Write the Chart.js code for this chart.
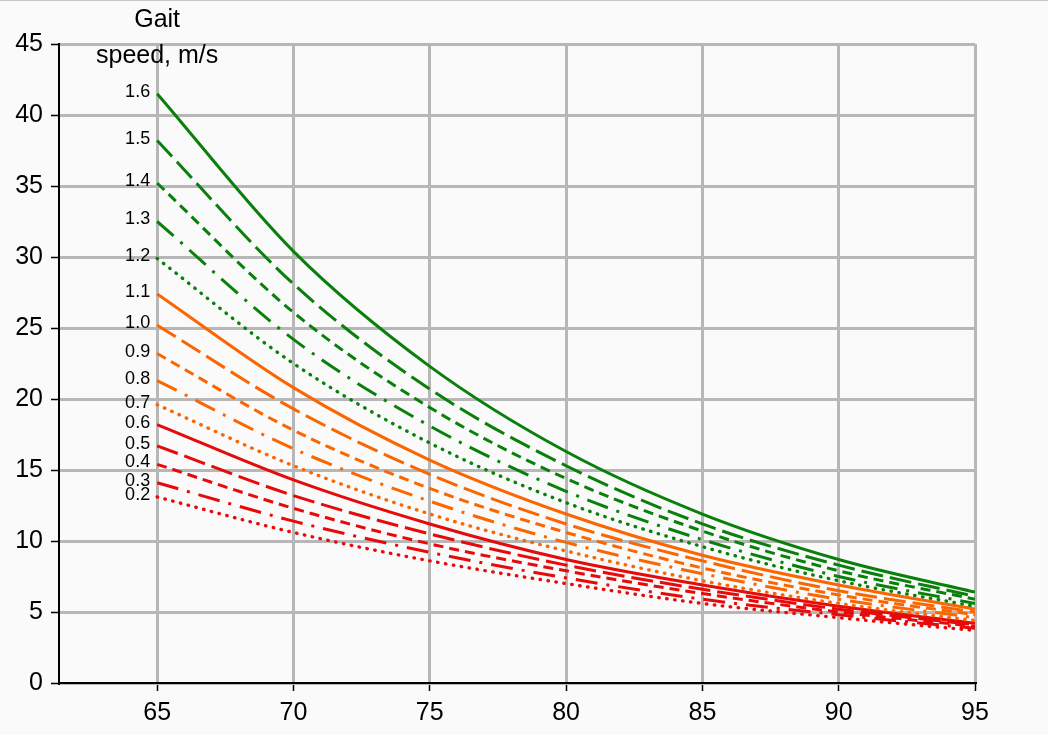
<!DOCTYPE html>
<html>
<head>
<meta charset="utf-8">
<script src="https://cdn.jsdelivr.net/npm/chart.js@4"></script>
<style>
  body { margin: 0; background: #fafafa; }
  canvas { display: block; }
</style>
</head>
<body>
<canvas id="gaitChart" width="1048" height="735"></canvas>
<script>
// age (years) on x, values for each gait speed curve
const ages = [65, 70, 75, 80, 85, 90, 95];
const xTicks = [65, 70, 75, 80, 85, 90, 95];
const yTicks = [0, 5, 10, 15, 20, 25, 30, 35, 40, 45];
const speedLabels = ["1.6", "1.5", "1.4", "1.3", "1.2", "1.1", "1.0", "0.9", "0.8", "0.7", "0.6", "0.5", "0.4", "0.3", "0.2"];

const v16 = [41.5, 30.4, 22.3, 16.3, 11.9, 8.7, 6.4];
const v15 = [38.2, 28.1, 20.7, 15.3, 11.2, 8.3, 6.1];
const v14 = [35.2, 26.1, 19.4, 14.4, 10.7, 7.9, 5.9];
const v13 = [32.5, 24.2, 18.1, 13.5, 10.1, 7.5, 5.6];
const v12 = [29.9, 22.5, 16.9, 12.7, 9.6, 7.2, 5.4];
const v11 = [27.4, 20.8, 15.7, 11.9, 9.0, 6.9, 5.2];
const v10 = [25.2, 19.3, 14.7, 11.2, 8.6, 6.5, 5.0];
const v09 = [23.2, 17.8, 13.7, 10.6, 8.1, 6.2, 4.8];
const v08 = [21.3, 16.5, 12.8, 9.9, 7.7, 5.9, 4.6];
const v07 = [19.6, 15.3, 11.9, 9.3, 7.2, 5.6, 4.4];
const v06 = [18.2, 14.3, 11.2, 8.7, 6.9, 5.4, 4.2];
const v05 = [16.7, 13.2, 10.5, 8.3, 6.6, 5.2, 4.1];
const v04 = [15.4, 12.3, 9.8, 7.9, 6.3, 5.0, 4.0];
const v03 = [14.1, 11.4, 9.2, 7.4, 5.9, 4.8, 3.85];
const v02 = [13.1, 10.6, 8.6, 7.0, 5.6, 4.6, 3.7];

const series = [v16, v15, v14, v13, v12, v11, v10, v09, v08, v07, v06, v05, v04, v03, v02];

const groupColors = ["#08800a", "#fa6600", "#e60a0a"];
const dashes = [[], [22, 7], [10, 6], [22, 9, 3, 9], [0.5, 7.5]];

const FONT = "Liberation Sans";

const datasets = series.map((vals, i) => {
    const style = i % 5;
    return {
        label: speedLabels[i],
        data: ages.map((a, j) => ({ x: a, y: vals[j] })),
        borderColor: groupColors[Math.floor(i / 5)],
        borderWidth: style == 4 ? 3.4 : 3,
        borderDash: dashes[style],
        borderCapStyle: style == 4 ? "round" : "butt",
        pointRadius: 0,
        cubicInterpolationMode: "monotone",
        fill: false
    };
});

const labelPlugin = {
    id: "labelPlugin",
    afterDatasetsDraw(chart) {
        const ctx = chart.ctx;
        ctx.save();
        ctx.fillStyle = "#000";
        ctx.font = "18px '" + FONT + "'";
        ctx.textAlign = "right";
        ctx.textBaseline = "middle";
        chart.data.datasets.forEach((ds, i) => {
            const p = chart.getDatasetMeta(i).data[0];
            ctx.fillText(ds.label, p.x - 7, p.y - 2);
        });

        // axis title
        const cx = chart.scales.x.getPixelForValue(65);
        ctx.font = "25px '" + FONT + "'";
        ctx.textAlign = "center";
        ctx.fillText("Gait", cx, 20);
        ctx.fillText("speed, m/s", cx, 56);

        ctx.strokeStyle = "#c8c8c8";
        ctx.lineWidth = 1;
        ctx.beginPath();
        ctx.moveTo(0, 0.5);
        ctx.lineTo(chart.width, 0.5);
        ctx.stroke();
        ctx.restore();
    }
};

const gridStyle = {
    color: "#b7b7b7",
    lineWidth: 3,
    tickLength: 8,
    tickColor: "#000",
    tickWidth: 1.5
};

new Chart(document.getElementById("gaitChart"), {
    type: "line",
    data: { datasets: datasets },
    options: {
        responsive: false,
        animation: false,
        layout: { padding: { top: 44, right: 73, left: 0, bottom: 0 } },
        plugins: {
            legend: { display: false },
            tooltip: { enabled: false }
        },
        scales: {
            x: {
                type: "linear",
                min: 61.4,
                max: 95,
                afterBuildTicks: s => { s.ticks = xTicks.map(v => ({ value: v })); },
                afterFit: s => { s.height = 52; },
                grid: gridStyle,
                border: { color: "#000", width: 2 },
                ticks: {
                    color: "#000",
                    padding: 7,
                    maxRotation: 0,
                    font: { family: FONT, size: 25 }
                }
            },
            y: {
                min: 0,
                max: 45,
                afterBuildTicks: s => { s.ticks = yTicks.map(v => ({ value: v })); },
                afterFit: s => { s.width = 59; },
                grid: gridStyle,
                border: { color: "#000", width: 2 },
                ticks: {
                    color: "#000",
                    padding: 8,
                    font: { family: FONT, size: 25 }
                }
            }
        }
    },
    plugins: [labelPlugin]
});
</script>
</body>
</html>
